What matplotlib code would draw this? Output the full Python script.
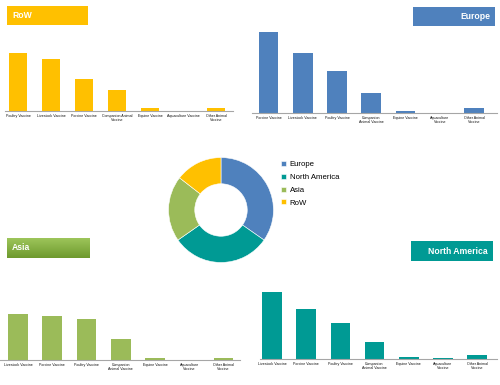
import matplotlib
matplotlib.use("Agg")
import matplotlib.pyplot as plt
import numpy as np
from matplotlib.patches import Rectangle
from matplotlib.colors import LinearSegmentedColormap

W, H = 500, 385

# Donut data (share, %)
regions = ["Europe", "North America", "Asia", "RoW"]
region_share = [34.7, 30.6, 20.2, 14.5]
region_colors = ["#4F81BD", "#009A94", "#9BBB59", "#FFC000"]

# RoW
row_cats = ["Poultry Vaccine", "Livestock Vaccine", "Porcine Vaccine", "Companion Animal\nVaccine",
            "Equine Vaccine", "Aquaculture Vaccine", "Other Animal\nVaccine"]
row_vals = [58, 52, 32, 21, 3.3, 0, 3.3]

# Europe
eu_cats = ["Porcine Vaccine", "Livestock Vaccine", "Poultry Vaccine", "Companion\nAnimal Vaccine",
           "Equine Vaccine", "Aquaculture\nVaccine", "Other Animal\nVaccine"]
eu_vals = [81, 60, 42, 20, 2.3, 0.5, 5]

# Asia
asia_cats = ["Livestock Vaccine", "Porcine Vaccine", "Poultry Vaccine", "Companion\nAnimal Vaccine",
             "Equine Vaccine", "Aquaculture\nVaccine", "Other Animal\nVaccine"]
asia_vals = [46, 44, 41, 21, 2, 0, 2]

# North America
na_cats = ["Livestock Vaccine", "Porcine Vaccine", "Poultry Vaccine", "Companion\nAnimal Vaccine",
           "Equine Vaccine", "Aquaculture\nVaccine", "Other Animal\nVaccine"]
na_vals = [67, 50, 36, 17, 2, 1, 4.5]

plt.rcParams["font.family"] = ["Liberation Sans", "DejaVu Sans"]

fig = plt.figure(figsize=(W / 100, H / 100), dpi=100)
fig.patch.set_facecolor("white")


def px_axes(left, top, width, height):
    return fig.add_axes([left / W, 1 - (top + height) / H, width / W, height / H])


def bar_panel(cats, vals, color, left, right, axis_y, c0, spacing, height=90):
    ax = px_axes(left, axis_y - height, right - left, height)
    x = np.arange(len(cats))
    ax.bar(x, vals, width=0.57, color=color)
    ax.set_ylim(0, height)
    ax.set_xlim((left - c0) / spacing, (right - c0) / spacing)
    for s in ["top", "right", "left"]:
        ax.spines[s].set_visible(False)
    ax.spines["bottom"].set_color("#A6A6A6")
    ax.spines["bottom"].set_linewidth(0.8)
    ax.set_yticks([])
    ax.set_xticks(x)
    ax.set_xticklabels(cats, fontsize=2.6, linespacing=1.0, color="#111111")
    ax.tick_params(axis="x", length=0, pad=2.5)
    ax.patch.set_alpha(0)
    return ax


def title_box(left, top, width, height, color, text, align="left"):
    fig.patches.append(Rectangle((left / W, 1 - (top + height) / H), width / W, height / H,
                                 transform=fig.transFigure, facecolor=color, edgecolor="none"))
    if align == "left":
        fig.text((left + 5) / W, 1 - (top + height / 2) / H, text, color="white", fontsize=6.2,
                 fontweight="bold", ha="left", va="center")
    else:
        fig.text((left + width - 5) / W, 1 - (top + height / 2) / H, text, color="white", fontsize=6.2,
                 fontweight="bold", ha="right", va="center")


bar_panel(row_cats, row_vals, "#FFC000", 5, 233, 111, 18, 33)
bar_panel(eu_cats, eu_vals, "#4F81BD", 252, 497, 113, 268.5, 34.25)
bar_panel(asia_cats, asia_vals, "#9BBB59", 0, 240, 360, 18, 34.25)
bar_panel(na_cats, na_vals, "#009A94", 260, 497, 359, 272, 34.2)

title_box(7, 6, 81, 19, "#FFC000", "RoW")
title_box(413, 7, 82, 19, "#4F81BD", "Europe", align="right")
title_box(411, 241, 82, 20, "#009A94", "North America", align="right")

# Asia gradient box
gax = px_axes(7, 238, 82, 20)
grad = np.linspace(0, 1, 50).reshape(-1, 1)
cmap = LinearSegmentedColormap.from_list("g", ["#9DC55A", "#6E9A2E"])
gax.imshow(grad, aspect="auto", cmap=cmap, extent=[0, 1, 0, 1], origin="upper")
gax.set_axis_off()
gax.text(5 / 82, 0.5, "Asia", color="white", fontsize=6.2, fontweight="bold", ha="left", va="center",
         transform=gax.transAxes)

# Donut
dax = px_axes(168, 157, 106, 106)
wedges, _ = dax.pie(region_share, colors=region_colors, startangle=90, counterclock=False,
                    wedgeprops=dict(width=0.5, edgecolor="white", linewidth=0.4))
dax.set_xlim(-1.01, 1.01)
dax.set_ylim(-1.01, 1.01)
dax.set_aspect("equal")
leg = dax.legend(wedges, regions, loc="upper left", bbox_to_anchor=(281 / W, 1 - 161 / H),
                 bbox_transform=fig.transFigure, frameon=False, fontsize=5.6,
                 handlelength=0.6, handleheight=0.6, handletextpad=0.5, labelspacing=0.72,
                 borderaxespad=0, borderpad=0)

fig.savefig("out.png", dpi=100, facecolor="white")
